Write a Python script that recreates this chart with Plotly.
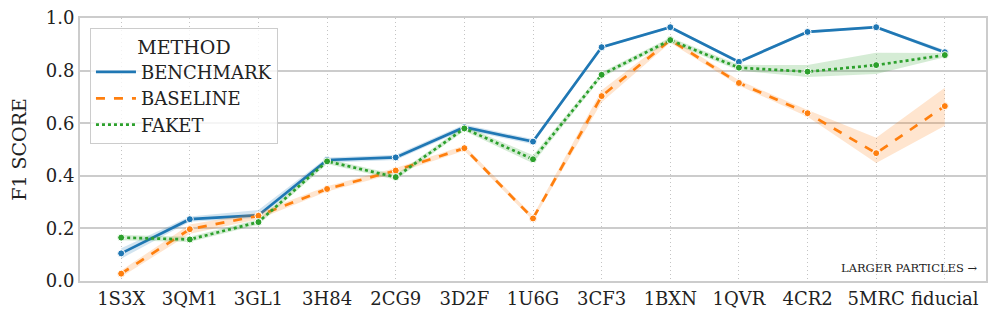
import plotly.graph_objects as go

categories = ["1S3X", "3QM1", "3GL1", "3H84", "2CG9", "3D2F", "1U6G",
              "3CF3", "1BXN", "1QVR", "4CR2", "5MRC", "fiducial"]

benchmark = [0.105, 0.235, 0.25, 0.46, 0.47, 0.585, 0.53, 0.889, 0.965, 0.833, 0.947, 0.965, 0.87]
benchmark_lo = [0.085, 0.225, 0.24, 0.45, 0.46, 0.575, 0.52, 0.884, 0.960, 0.828, 0.942, 0.960, 0.862]
benchmark_hi = [0.125, 0.245, 0.27, 0.47, 0.48, 0.595, 0.54, 0.894, 0.970, 0.838, 0.952, 0.970, 0.878]

baseline = [0.028, 0.197, 0.248, 0.35, 0.42, 0.505, 0.238, 0.703, 0.916, 0.753, 0.638, 0.486, 0.665]
baseline_lo = [0.015, 0.18, 0.235, 0.34, 0.41, 0.495, 0.23, 0.68, 0.906, 0.743, 0.625, 0.449, 0.59]
baseline_hi = [0.04, 0.215, 0.26, 0.36, 0.43, 0.515, 0.248, 0.725, 0.926, 0.763, 0.65, 0.545, 0.735]

faket = [0.165, 0.158, 0.224, 0.455, 0.395, 0.58, 0.463, 0.784, 0.916, 0.811, 0.796, 0.821, 0.859]
faket_lo = [0.155, 0.148, 0.214, 0.445, 0.385, 0.57, 0.448, 0.774, 0.906, 0.800, 0.776, 0.787, 0.851]
faket_hi = [0.175, 0.168, 0.234, 0.465, 0.405, 0.59, 0.478, 0.794, 0.926, 0.822, 0.821, 0.868, 0.867]

methods = [
    ("BENCHMARK", benchmark, benchmark_lo, benchmark_hi, "#1f77b4", "rgba(31,119,180,0.2)", "solid"),
    ("BASELINE", baseline, baseline_lo, baseline_hi, "#ff7f0e", "rgba(255,127,14,0.2)", "dash"),
    ("FAKET", faket, faket_lo, faket_hi, "#2ca02c", "rgba(44,160,44,0.2)", "dot"),
]

font = "DejaVu Serif"
fig = go.Figure()

for name, y, lo, hi, color, fill, dash in methods:
    # confidence band
    fig.add_trace(go.Scatter(x=categories, y=hi, mode="lines", line=dict(width=0),
                             showlegend=False, hoverinfo="skip"))
    fig.add_trace(go.Scatter(x=categories, y=lo, mode="lines", line=dict(width=0),
                             fill="tonexty", fillcolor=fill, showlegend=False, hoverinfo="skip"))
    fig.add_trace(go.Scatter(x=categories, y=y, mode="lines+markers", name=name,
                             line=dict(color=color, width=2.7, dash=dash),
                             marker=dict(size=7, color=color, line=dict(color="white", width=1)),
                             showlegend=False))
    # legend entry with line only
    fig.add_trace(go.Scatter(x=[None], y=[None], mode="lines", name=name,
                             line=dict(color=color, width=2.7, dash=dash)))

fig.add_annotation(text="LARGER PARTICLES →", x=0.993, y=0.05, xref="paper", yref="paper",
                   xanchor="right", yanchor="middle", showarrow=False,
                   font=dict(family=font, size=11.5, color="#222"))

fig.update_xaxes(range=[-0.6, 12.6], showgrid=True, gridcolor="#c4c4c4", griddash="1px,3px",
                 gridwidth=1.2, showline=True, linecolor="#cccccc", linewidth=2, mirror=True,
                 ticks="", tickfont=dict(family=font, size=18, color="#222"), zeroline=False,
                 automargin=False)
fig.update_yaxes(range=[0, 1], dtick=0.2, tickformat=".1f", showgrid=True, gridcolor="#cccccc",
                 gridwidth=1.5, showline=True, linecolor="#cccccc", linewidth=2, mirror=True,
                 ticks="", zeroline=False, tickfont=dict(family=font, size=18, color="#222"),
                 automargin=False, ticklabeloverflow="allow",
                 title=dict(text="F1 SCORE", font=dict(family=font, size=19, color="#222"), standoff=14))

fig.update_layout(
    width=997, height=327,
    margin=dict(l=72, r=19, t=10, b=54),
    plot_bgcolor="white", paper_bgcolor="white",
    font=dict(family=font, color="#222"),
    legend=dict(title=dict(text="METHOD", side="top center", font=dict(family=font, size=19)),
                x=0.011, y=0.962, xanchor="left", yanchor="top", traceorder="normal",
                bgcolor="rgba(255,255,255,0.8)", bordercolor="#cccccc", borderwidth=1,
                font=dict(family=font, size=18), itemwidth=40, tracegroupgap=0),
)

fig.write_html("out.html")
